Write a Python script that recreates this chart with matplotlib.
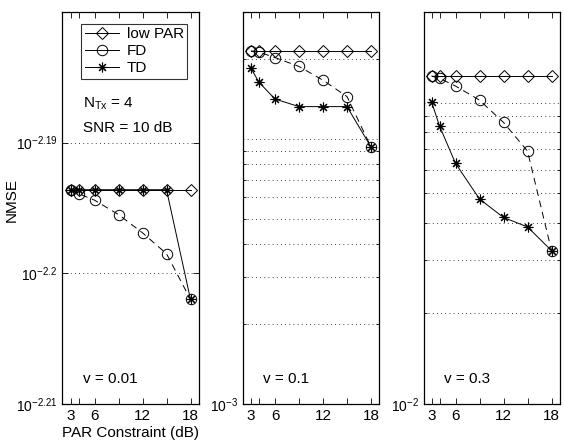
import numpy as np
import matplotlib
matplotlib.use("Agg")
import matplotlib.pyplot as plt
from matplotlib.lines import Line2D
from matplotlib.ticker import FixedLocator, NullLocator, FixedFormatter, LogLocator, NullFormatter

plt.rcParams['font.family'] = ['Liberation Sans', 'DejaVu Sans']
plt.rcParams['mathtext.fontset'] = 'custom'
plt.rcParams['mathtext.rm'] = 'Liberation Sans'
plt.rcParams['mathtext.it'] = 'Liberation Sans:italic'
plt.rcParams['font.size'] = 10

par_db = [3, 4, 6, 9, 12, 15, 18]
labels_x = [3, 6, 12, 18]
series_names = ['low PAR', 'FD', 'TD']
v_labels = ['v = 0.01', 'v = 0.1', 'v = 0.3']

# panel 1 (v = 0.01), NMSE values
p1_low = [10**-2.1936] * 7
p1_fd = [10**-2.1936, 10**-2.1939, 10**-2.1944, 10**-2.1955, 10**-2.1969, 10**-2.1985, 10**-2.2020]
p1_td = [10**-2.1936] * 6 + [10**-2.2020]

# panel 2 (v = 0.1)
p2_low = [0.0214] * 7
p2_fd = [0.0214, 0.0212, 0.0202, 0.0187, 0.0166, 0.0144, 0.0093]
p2_td = [0.0184, 0.0163, 0.0141, 0.0132, 0.0132, 0.0132, 0.0093]

# panel 3 (v = 0.3)
p3_low = [0.1227] * 7
p3_fd = [0.1227, 0.1205, 0.1136, 0.102, 0.086, 0.0691, 0.0323]
p3_td = [0.1008, 0.0837, 0.0629, 0.0479, 0.0416, 0.0387, 0.0323]

panels = [(p1_low, p1_fd, p1_td), (p2_low, p2_fd, p2_td), (p3_low, p3_fd, p3_td)]
ylims = [(10**-2.21, 10**-2.18), (1e-3, 3e-2), (1e-2, 2e-1)]

W, H = 564, 445
fig = plt.figure(figsize=(W / 100, H / 100), dpi=100)
lefts = [62.5, 243, 423.5]
axw = 136
top, bot = 12, 404

asterisk = (8, 2, 0)
for i, (low, fd, td) in enumerate(panels):
    ax = fig.add_axes([lefts[i] / W, (H - bot) / H, axw / W, (bot - top) / H])
    ax.set_yscale('log')
    ax.set_xlim(2, 19)
    ax.set_ylim(*ylims[i])
    ax.plot(par_db, low, '-', color='k', lw=0.7, marker='D', ms=6.5,
            mfc='none', mec='k', mew=0.7)
    ax.plot(par_db, fd, '--', color='k', lw=0.7, dashes=(7, 5), marker='o', ms=7.5,
            mfc='none', mec='k', mew=0.7)
    ax.plot(par_db, td, '-', color='k', lw=0.7, marker=asterisk, ms=7,
            mec='k', mew=0.8)
    ax.xaxis.set_major_locator(FixedLocator(par_db))
    ax.xaxis.set_major_formatter(FixedFormatter([str(x) if x in labels_x else '' for x in par_db]))
    ax.tick_params(which='both', direction='in', top=True, right=True, width=0.6)
    ax.tick_params(which='major', length=4)
    ax.tick_params(axis='x', labelsize=11)
    ax.tick_params(axis='y', labelsize=10)
    ax.tick_params(which='minor', length=2.5)
    if i == 0:
        ticks = [10**-2.21, 10**-2.2, 10**-2.19]
        ax.yaxis.set_major_locator(FixedLocator(ticks))
        ax.yaxis.set_major_formatter(FixedFormatter([r'$\mathregular{10^{-2.21}}$',
                                                     r'$\mathregular{10^{-2.2}}$',
                                                     r'$\mathregular{10^{-2.19}}$']))
        ax.yaxis.set_minor_locator(NullLocator())
        ax.grid(True, axis='y', which='major', color='k', lw=0.6, linestyle=(0, (1, 4)))
        ax.set_ylabel('NMSE', fontsize=11)
        ax.yaxis.set_label_coords(-0.325, 0.52)
        ax.set_xlabel('PAR Constraint (dB)', fontsize=11, labelpad=2)
        handles = [
            Line2D([], [], color='k', lw=0.7, marker='D', ms=6.5, mfc='none', mew=0.7),
            Line2D([], [], color='k', lw=0.7, marker='o', ms=7.5, mfc='none', mew=0.7),
            Line2D([], [], color='k', lw=0.7, marker=asterisk, ms=7, mew=0.8),
        ]
        leg = ax.legend(handles, series_names, loc='upper right', bbox_to_anchor=(0.975, 0.99),
                        fontsize=11, frameon=True, fancybox=False, edgecolor='k',
                        handlelength=2.2, borderpad=0.25, labelspacing=0.18, handletextpad=0.5)
        leg.get_frame().set_linewidth(0.8)
        ax.text(0.15, 0.765, r'$\mathregular{N_{Tx}}$ = 4', transform=ax.transAxes,
                fontsize=11, va='center', ha='left')
        ax.text(0.15, 0.703, 'SNR = 10 dB', transform=ax.transAxes,
                fontsize=11, va='center', ha='left')
    else:
        lo = int(np.log10(ylims[i][0]))
        ax.yaxis.set_major_locator(FixedLocator([10.0**lo]))
        ax.yaxis.set_major_formatter(FixedFormatter([r'$\mathregular{10^{%d}}$' % lo]))
        ax.yaxis.set_minor_locator(LogLocator(base=10, subs=np.arange(2, 10), numticks=20))
        ax.yaxis.set_minor_formatter(NullFormatter())
        gy = [m * 10.0**e for e in (lo, lo + 1) for m in range(1, 10)]
        gy = [g for g in gy if ylims[i][0] * 1.01 < g < ylims[i][1] * 0.99]
        for g in gy:
            ax.axhline(g, color='k', lw=0.6, linestyle=(0, (1, 4)), zorder=0)
    ax.text(0.15, 0.065, v_labels[i], transform=ax.transAxes, fontsize=11, va='center', ha='left')
    for s in ax.spines.values():
        s.set_linewidth(0.9)

fig.savefig('out.png', dpi=100)
